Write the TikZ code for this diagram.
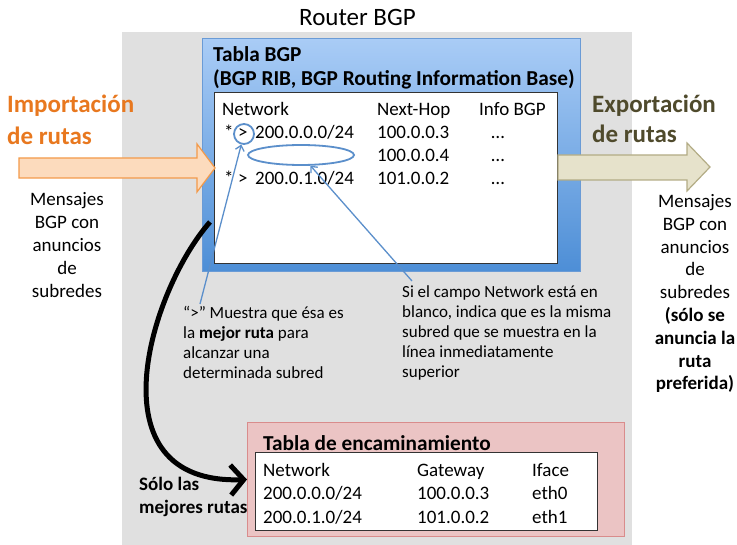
\documentclass[tikz,border=0pt]{standalone}
\usepackage{fontspec}
\setmainfont{Carlito}
\usetikzlibrary{arrows.meta,shapes.geometric}
\definecolor{greybg}{HTML}{E0E0E0}
\definecolor{bluetop}{HTML}{A9CCF6}
\definecolor{bluebot}{HTML}{4D8ED6}
\definecolor{blueline}{HTML}{6A9BD6}
\definecolor{annblue}{HTML}{5B8FCB}
\definecolor{pinkfill}{HTML}{EBC4C4}
\definecolor{pinkline}{HTML}{D98C8C}
\definecolor{orfill}{HTML}{FCDBBD}
\definecolor{orline}{HTML}{F39A4A}
\definecolor{ortext}{HTML}{E8781F}
\definecolor{befill}{HTML}{E6E2CB}
\definecolor{beline}{HTML}{B3AC85}
\definecolor{oltext}{HTML}{4F4A2C}
\tikzset{
  box/.style={anchor=north west, inner sep=0pt, outer sep=0pt},
  txt/.style={anchor=base west, inner sep=0pt, font=\fontsize{19}{23}\selectfont},
  ctxt/.style={anchor=base, inner sep=0pt, font=\fontsize{19}{23}\selectfont},
  ttl/.style={anchor=base west, inner sep=0pt, font=\bfseries\fontsize{21.3}{24}\selectfont},
  note/.style={anchor=base west, inner sep=0pt, align=left, font=\fontsize{17}{20}\selectfont},
  barrow/.style={draw=annblue, line width=1.3pt, -{Straight Barb[length=5pt,width=9pt]}},
  bigarrow/.style={draw=black, line width=5pt, -{Straight Barb[length=13pt,width=30pt]}},
}
\begin{document}
\begin{tikzpicture}[x=1pt,y=-1pt]
\useasboundingbox (0,0) rectangle (737,545);
% router area
\node[box, fill=greybg, minimum width=510pt, minimum height=513pt] (router) at (122,32) {};
\node[ctxt, font=\fontsize{25}{30}\selectfont] (rtitle) at (357.5,26) {Router BGP};
% BGP table
\node[box, draw=blueline, line width=1pt, top color=bluetop, bottom color=bluebot, minimum width=378pt, minimum height=233pt] (bgp) at (202,39) {};
\node[box, draw=black!80, line width=0.8pt, fill=white, minimum width=343pt, minimum height=171pt] (bgpin) at (214,92) {};
\node[ttl] (bt1) at (213,62) {Tabla BGP};
\node[ttl] (bt2) at (213,86) {(BGP RIB, BGP Routing Information Base)};
\node[txt] (h1) at (222,116) {Network};
\node[txt] (h2) at (377,116) {Next-Hop};
\node[txt] (h3) at (479,116) {Info BGP};
\node[txt] (s1) at (224,139) {*};
\node[txt] (g1) at (238,139) {>};
\node[txt] (n1) at (255,139) {200.0.0.0/24};
\node[txt] (x1) at (377,139) {100.0.0.3};
\node[ctxt] (i1) at (498,139) {…};
\node[txt] (x2) at (377,162) {100.0.0.4};
\node[ctxt] (i2) at (498,162) {…};
\node[txt] (s3) at (224,185) {*};
\node[txt] (g3) at (238,185) {>};
\node[txt] (n3) at (255,185) {200.0.1.0/24};
\node[txt] (x3) at (377,185) {101.0.0.2};
\node[ctxt] (i3) at (498,185) {…};
\node[draw=annblue, line width=1.8pt, circle, minimum size=20pt, inner sep=0pt] (gt) at (244,134) {};
\node[draw=annblue, line width=1.8pt, ellipse, minimum width=106pt, minimum height=20pt, inner sep=0pt] (ell) at (301,155) {};
% routing table
\node[box, draw=pinkline, line width=1pt, fill=pinkfill, minimum width=377pt, minimum height=113pt] (pink) at (247,423) {};
\node[box, draw=black!80, line width=0.8pt, fill=white, minimum width=342pt, minimum height=78pt] (pinkin) at (255,452) {};
\node[ttl] (pt) at (263,450) {Tabla de encaminamiento};
\node[txt] (ph1) at (263,477) {Network};
\node[txt] (ph2) at (417,477) {Gateway};
\node[txt] (ph3) at (532,477) {Iface};
\node[txt] (pa1) at (263,500) {200.0.0.0/24};
\node[txt] (pa2) at (417,500) {100.0.0.3};
\node[txt] (pa3) at (532,500) {eth0};
\node[txt] (pb1) at (263,523) {200.0.1.0/24};
\node[txt] (pb2) at (417,523) {101.0.0.2};
\node[txt] (pb3) at (532,523) {eth1};
% import / export arrows
\draw[fill=orfill, draw=orline, line width=1.2pt] (19,158) -- (197,158) -- (197,144) -- (215,168) -- (197,192) -- (197,178) -- (19,178) -- cycle;
\draw[fill=befill, draw=beline, line width=1.2pt] (558,155) -- (687,155) -- (687,143) -- (710,167) -- (687,191) -- (687,180) -- (558,180) -- cycle;
% multi-line texts: base anchor = baseline of last line
\node[txt, align=left, text=ortext, font=\bfseries\fontsize{25}{32}\selectfont] (imp) at (7,145) {Importación\\de rutas};
\node[txt, align=left, text=oltext, font=\bfseries\fontsize{25}{30}\selectfont] (exp) at (592,143) {Exportación\\de rutas};
\node[ctxt, align=center, font=\fontsize{19}{23}\selectfont] (lmsg) at (67,298) {Mensajes\\BGP con\\anuncios\\de\\subredes};
\node[ctxt, align=center, font=\fontsize{19}{22.8}\selectfont] (rmsg) at (695,390) {Mensajes\\BGP con\\anuncios\\de\\subredes\\\textbf{(sólo se}\\\textbf{anuncia la}\\\textbf{ruta}\\\textbf{preferida)}};
% notes
\node[note] (note1) at (183,379) {“>” Muestra que ésa es\\la \textbf{mejor ruta} para\\alcanzar una\\determinada subred};
\node[note] (note2) at (402,378) {Si el campo Network está en\\blanco, indica que es la misma\\subred que se muestra en la\\línea inmediatamente\\superior};
\node[txt, align=left, font=\bfseries\fontsize{19}{23}\selectfont] (best) at (139,513) {Sólo las\\mejores rutas};
\coordinate (a1) at (200,304);
\coordinate (a2) at (412,281);
\draw[barrow] (a1) -- (gt);
\draw[barrow] (a2) -- (ell);
\coordinate (b0) at (210,222);
\draw[bigarrow] (b0) .. controls (150,290) and (90,485) .. (pink.west);
\end{tikzpicture}
\end{document}
